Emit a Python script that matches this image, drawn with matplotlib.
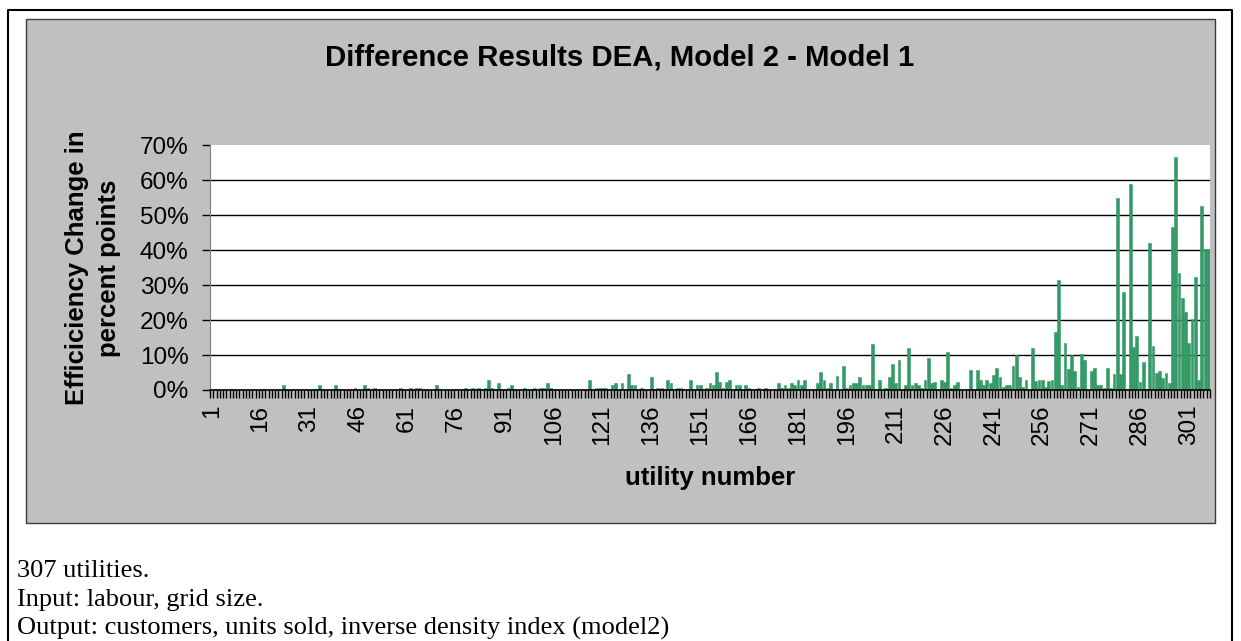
import numpy as np
import matplotlib.pyplot as plt
from matplotlib.patches import Rectangle
from matplotlib.lines import Line2D
from matplotlib.ticker import PercentFormatter

plt.rcParams['font.family'] = ['Liberation Sans', 'DejaVu Sans']

W, H = 1241, 641

# ----
# data
# ----

n_utilities = 307
# utilities with a non-zero change (all others are 0), values in percent points
changed_ids = [23, 34, 39, 45, 48, 49, 51, 59, 62, 64, 65, 70, 79, 81, 83, 85, 86, 87, 89, 92,
               93, 97, 100, 102, 103, 104, 105,
               117, 119, 120, 121, 122, 124, 125, 127, 129, 130, 131, 133, 136, 138, 139, 141, 142,
               144, 145, 148, 150, 151, 153, 154, 155, 156, 157, 158, 159, 160, 162, 163, 165, 166,
               169, 171, 175, 176, 177, 178, 179, 180, 181, 182, 183, 187, 188, 189, 190, 191, 193,
               195, 196, 197, 198, 199, 200, 201, 202, 203, 204, 206, 208, 209, 210, 211, 212, 214,
               215, 216, 217, 218, 219, 220, 221, 222, 223, 225, 226, 227, 228, 229, 230, 234, 236,
               237, 238, 239, 240, 241, 242, 243, 244, 245, 246, 247, 248, 249, 250, 251, 253, 254,
               255, 256, 257, 258, 259, 260, 261, 262, 263, 264, 265, 266, 267, 268, 269, 271, 272,
               273, 274, 275, 276, 277, 278, 279, 280, 281, 283, 284, 285, 286, 287, 289, 290, 291,
               292, 293, 294, 295, 296, 297, 298, 299, 300, 301, 302, 303, 304, 305, 306, 307]
changed_pct = [1.3, 1.3, 1.3, 0.7, 1.3, 0.7, 0.7, 0.7, 0.7, 0.7, 0.7, 1.3, 0.7, 0.7, 0.7, 0.7, 3.0, 0.7, 1.9, 0.7,
               1.3, 0.7, 0.7, 0.7, 0.7, 1.9, 0.7,
               3.0, 0.7, 0.7, 0.7, 0.7, 1.3, 1.9, 1.9, 4.7, 1.3, 1.3, 0.7, 3.6, 0.7, 0.7, 3.0, 1.9,
               0.7, 0.7, 3.0, 1.3, 1.3, 0.7, 1.9, 1.3, 5.2, 2.4, 0.7, 2.4, 3.0, 1.3, 1.3, 1.3, 0.7,
               0.7, 0.7, 1.9, 0.7, 1.3, 0.7, 1.9, 1.3, 3.0, 1.3, 3.0, 1.9, 5.2, 3.0, 0.7, 1.9, 4.1,
               6.9, 0.7, 1.3, 1.9, 1.9, 3.6, 1.3, 1.3, 1.3, 13.1, 3.0, 0.7, 3.6, 7.5, 1.9, 8.6, 1.3,
               12.0, 1.3, 1.9, 1.3, 0.7, 3.0, 9.2, 1.9, 2.4, 3.0, 2.4, 10.8, 0.7, 1.3, 2.4, 5.8, 5.8,
               3.0, 1.3, 3.0, 1.9, 4.2, 6.4, 3.6, 0.8, 1.3, 1.3, 7.0, 9.9, 3.6, 0.8, 3.0, 12.1, 2.5,
               3.0, 3.0, 0.8, 2.5, 3.0, 16.7, 31.5, 1.3, 13.3, 5.9, 9.9, 5.3, 0.8, 10.4, 8.7, 5.3, 6.4,
               1.3, 1.3, 0.5, 6.4, 0.5, 4.6, 55.0, 4.6, 28.1, 59.0, 12.2, 15.5, 2.4, 8.1, 41.9, 12.7, 4.8,
               5.4, 3.5, 4.8, 1.9, 46.5, 66.5, 33.3, 26.4, 22.4, 13.3, 20.2, 32.4, 3.0, 52.7, 40.2, 40.2]

utility_no = np.arange(1, n_utilities + 1)
change = np.zeros(n_utilities)
change[np.array(changed_ids) - 1] = changed_pct
change = change / 100

tick_ids = list(range(1, n_utilities + 1, 15))

title = 'Difference Results DEA, Model 2 - Model 1'
ylabel = 'Efficiciency Change in\npercent points'
xlabel = 'utility number'
notes = ['307 utilities.',
         'Input: labour, grid size.',
         'Output: customers, units sold, inverse density index (model2)']

# ------
# figure
# ------

fig = plt.figure(figsize=(W / 100, H / 100), dpi=100)
fig.patch.set_facecolor('white')

# outer frame of the document box
fig.add_artist(Line2D([8 / W, 8 / W, 1232 / W, 1232 / W], [0, 1 - 10 / H, 1 - 10 / H, 0],
                      transform=fig.transFigure, color='black', lw=1.5))
# gray chart area
fig.add_artist(Rectangle((26 / W, 1 - 523 / H), (1215 - 26) / W, (523 - 19) / H,
                         transform=fig.transFigure, facecolor='#c0c0c0', edgecolor='#3a3a3a',
                         lw=1.0, zorder=0))

ax = fig.add_axes([210 / W, 1 - 390 / H, 1000 / W, 245 / H])
ax.set_facecolor('white')
ax.bar(utility_no, change, width=0.86, color='#339966', edgecolor='#339966', lw=0.4, zorder=2)

ax.set_xlim(0.5, n_utilities + 0.5)
ax.set_ylim(0, 0.7)
ax.set_yticks(np.arange(0, 0.71, 0.1))
ax.yaxis.set_major_formatter(PercentFormatter(1.0, decimals=0))
ax.set_xticks(tick_ids)
ax.set_xticklabels([str(t) for t in tick_ids], rotation=90)
ax.set_xticks(np.arange(0.5, n_utilities + 1, 1), minor=True)

ax.tick_params(axis='x', which='major', length=0, pad=10.5, labelsize=17.5)
ax.tick_params(axis='x', which='minor', length=5.5, width=1.0, color='black', direction='out')
ax.tick_params(axis='y', which='major', length=5.8, width=1.0, color='black', pad=9.5,
               labelsize=17.5)

# grid lines
ax.yaxis.grid(True, color='black', lw=1.0)
ax.get_ygridlines()[-1].set_visible(False)
ax.set_axisbelow(True)

ax.spines['top'].set_visible(False)
ax.spines['right'].set_visible(False)
ax.spines['left'].set_color('#808080')
ax.spines['bottom'].set_color('black')
ax.spines['bottom'].set_linewidth(1.2)
ax.spines['bottom'].set_zorder(3)

# titles
fig.text(620 / W, 1 - 58 / H, title, ha='center', va='center', fontsize=21.2, fontweight='bold')
fig.text(93 / W, 1 - 268 / H, ylabel, ha='center', va='center', rotation=90,
         multialignment='center', fontsize=18.5, fontweight='bold', linespacing=1.45)
fig.text(710 / W, 1 - 478 / H, xlabel, ha='center', va='center', fontsize=18.5,
         fontweight='bold')

# notes below the chart
for i, line in enumerate(notes):
    fig.text(17 / W, 1 - (577 + 29 * i) / H, line, ha='left', va='baseline',
             fontsize=19, family=['Liberation Serif', 'DejaVu Serif'])

fig.savefig('out.png', dpi=100)
